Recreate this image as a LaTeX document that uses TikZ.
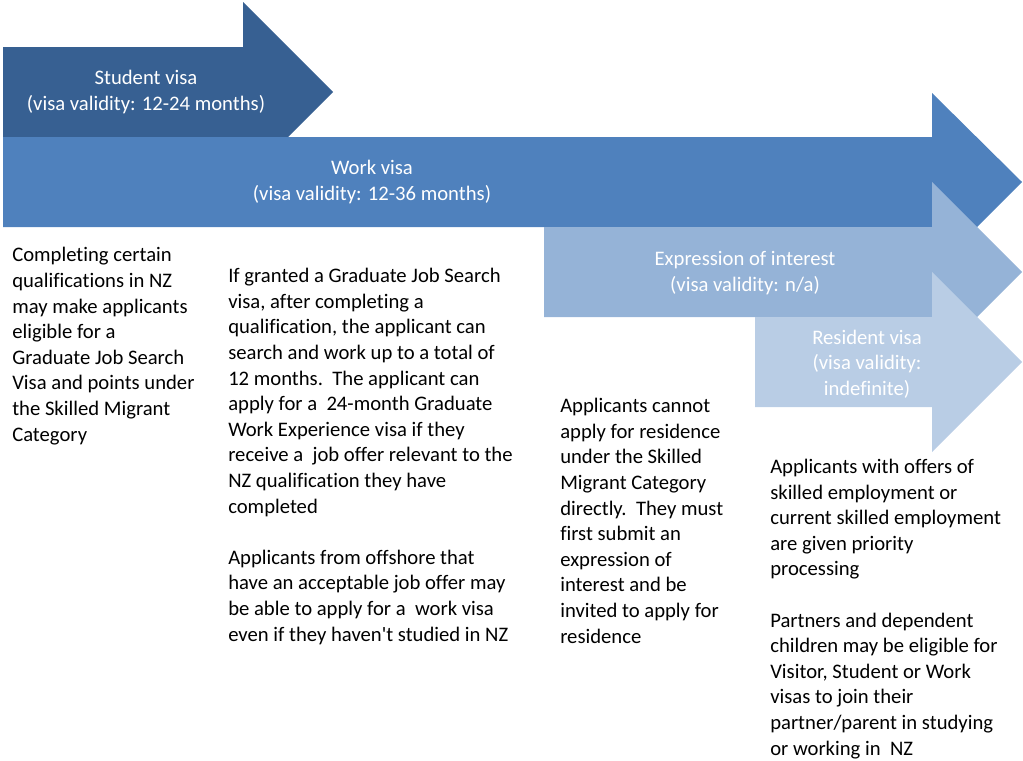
\documentclass[tikz,border=0pt]{standalone}
\usepackage{fontspec}
\setmainfont{Carlito}[Ligatures=NoCommon]
\usepackage{tikz}

\begin{document}
\begin{tikzpicture}[x=0.75pt,y=0.75pt,yscale=-1,xscale=1,
  arrowtext/.style={text=white,align=center,inner sep=0.75pt,font=\fontsize{15.5}{19}\selectfont},
  bodytext/.style={text=black,align=left,anchor=base west,inner sep=0pt,font=\fontsize{15.5}{19.2}\selectfont}]
\useasboundingbox (0,0) rectangle (1023,760);

%Shape: Right Arrow (student)
\fill [color={rgb, 255:red, 55; green, 96; blue, 146 }] (3,47) -- (243,47) -- (243,2) -- (333,92) -- (243,182) -- (243,137) -- (3,137) -- cycle ;
%Shape: Right Arrow (work)
\fill [color={rgb, 255:red, 79; green, 129; blue, 189 }] (3,137) -- (932,137) -- (932,93) -- (1022,182) -- (932,272) -- (932,227) -- (3,227) -- cycle ;
%Shape: Right Arrow (expression of interest)
\fill [color={rgb, 255:red, 149; green, 179; blue, 215 }] (544,227) -- (932,227) -- (932,182) -- (1022,272) -- (932,362) -- (932,317) -- (544,317) -- cycle ;
%Shape: Right Arrow (resident)
\fill [color={rgb, 255:red, 185; green, 205; blue, 229 }] (755,317) -- (932,317) -- (932,272) -- (1022,362) -- (932,452) -- (932,407) -- (755,407) -- cycle ;

% Text Node
\node [arrowtext] (student) at (146,92) {Student visa\\(visa validity: 12-24 months)};
% Text Node
\node [arrowtext] (work) at (372,182) {Work visa\\(visa validity: 12-36 months)};
% Text Node
\node [arrowtext] (eoi) at (745,273) {Expression of interest\\(visa validity: n/a)};
% Text Node
\node [arrowtext] (resident) at (867,364) {Resident visa\\(visa validity:\\indefinite)};

% Text Node (base of the last line)
\node [bodytext] (studynote) at (12,441) {Completing certain\\qualifications in NZ\\may make applicants\\eligible for a\\Graduate Job Search\\Visa and points under\\the Skilled Migrant\\Category};
% Text Node
\node [bodytext] (worknote) at (228,641) {If granted a Graduate Job Search\\visa, after completing a\\qualification, the applicant can\\search and work up to a total of\\12 months.\ \ The applicant can\\apply for a\ \ 24-month Graduate\\Work Experience visa if they\\receive a\ \ job offer relevant to the\\NZ qualification they have\\completed\\[\baselineskip]Applicants from offshore that\\have an acceptable job offer may\\be able to apply for a\ \ work visa\\even if they haven\textquotesingle t studied in NZ};
% Text Node
\node [bodytext] (eoinote) at (560,643) {Applicants cannot\\apply for residence\\under the Skilled\\Migrant Category\\directly.\ \ They must\\first submit an\\expression of\\interest and be\\invited to apply for\\residence};
% Text Node
\node [bodytext] (residentnote) at (770,755) {Applicants with offers of\\skilled employment or\\current skilled employment\\are given priority\\processing\\[\baselineskip]Partners and dependent\\children may be eligible for\\Visitor, Student or Work\\visas to join their\\partner/parent in studying\\or working in\ \ NZ};

\end{tikzpicture}
\end{document}
